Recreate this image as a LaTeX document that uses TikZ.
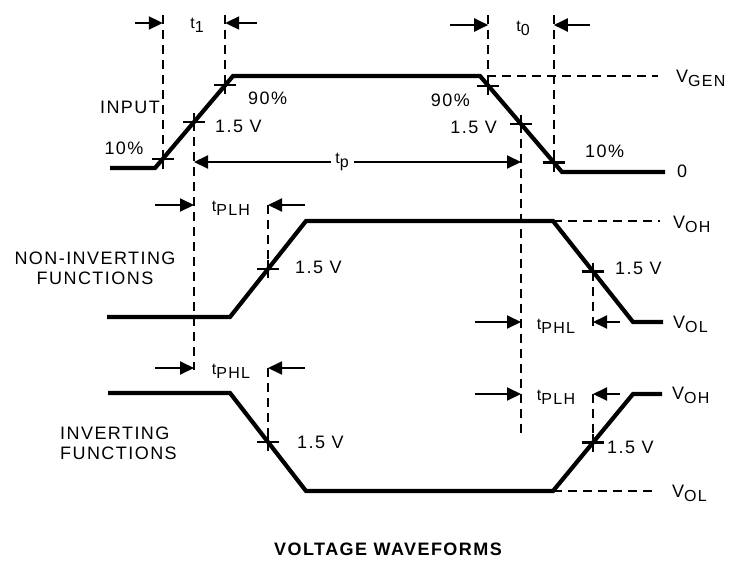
\documentclass[tikz,border=0pt]{standalone}
\usepackage{fontspec}
\setmainfont{Liberation Sans}[LetterSpace=8]
\usetikzlibrary{arrows.meta,calc}
\newcommand{\lowsub}[1]{\raisebox{-4pt}{\fontsize{16}{16}\selectfont #1}}
\newcommand{\smallt}{{\fontsize{16}{16}\selectfont t}}
\begin{document}
\begin{tikzpicture}[x=1pt,y=-1pt,
  every node/.style={inner sep=0pt,font=\fontsize{18}{20}\selectfont},
  wave/.style={line width=4.2pt,line join=miter},
  dline/.style={line width=2pt,dash pattern=on 9pt off 6pt},
  dimarrow/.style={line width=2pt,-{Triangle[length=14pt,width=13pt]}},
  tickmark/.style={line width=2.2pt}]
\useasboundingbox (0,0) rectangle (741,565);
% ---------- key points ----------
\coordinate (i0) at (110,168); \coordinate (i1) at (155,168);
\coordinate (i2) at (233,76);  \coordinate (i3) at (480,76);
\coordinate (i4) at (562,172); \coordinate (i5) at (665,172);
\coordinate (n0) at (107,317); \coordinate (n1) at (230,317);
\coordinate (n2) at (306,221); \coordinate (n3) at (553,221);
\coordinate (n4) at (633,322); \coordinate (n5) at (663,322);
\coordinate (v0) at (108,393); \coordinate (v1) at (230,393);
\coordinate (v2) at (306,491); \coordinate (v3) at (553,491);
\coordinate (v4) at (633,394); \coordinate (v5) at (662,394);
\coordinate (A10) at ($(i1)!0.1!(i2)$);
\coordinate (A50) at ($(i1)!0.5!(i2)$);
\coordinate (A90) at ($(i1)!0.9!(i2)$);
\coordinate (B90) at ($(i3)!0.1!(i4)$);
\coordinate (B50) at ($(i3)!0.5!(i4)$);
\coordinate (B10) at ($(i3)!0.9!(i4)$);
\coordinate (N50) at ($(n1)!0.5!(n2)$);
\coordinate (M50) at ($(n3)!0.5!(n4)$);
\coordinate (I50) at ($(v1)!0.5!(v2)$);
\coordinate (J50) at ($(v3)!0.5!(v4)$);
% ---------- waveforms ----------
\draw[wave] (i0) -- (i1) -- (i2) -- (i3) -- (i4) -- (i5);
\draw[wave] (n0) -- (n1) -- (n2) -- (n3) -- (n4) -- (n5);
\draw[wave] (v0) -- (v1) -- (v2) -- (v3) -- (v4) -- (v5);
% ---------- cross marks ----------
\foreach \p in {A10,A50,A90,B90,B50,B10,N50,M50,I50,J50}{
  \draw[tickmark] ($(\p)+(-11,0)$) -- ($(\p)+(11,0)$);
  \draw[tickmark] ($(\p)+(0,-9)$) -- ($(\p)+(0,9)$);
}
% ---------- dashed reference lines ----------
\coordinate (ytop) at (0,15);
\draw[dline] (A10 |- ytop) -- ($(A10)+(0,10)$);
\draw[dline] (A90 |- ytop) -- ($(A90)+(0,8)$);
\draw[dline] (B90 |- ytop) -- (B90 |- i3) -- (658,76);
\draw[dline] (B10 |- ytop) -- ($(B10)+(0,10)$);
\coordinate (tpLb) at (A50 |- 0,370);
\coordinate (tpRb) at (B50 |- 0,433);
\draw[dline] (A50) -- (tpLb);
\draw[dline] (B50) -- (tpRb);
\draw[dline] (N50 |- 0,205) -- (N50);
\draw[dline] (I50 |- 0,368) -- (I50);
\draw[dline] (M50) -- (M50 |- 0,329);
\draw[dline] (J50 |- 0,394) -- (J50);
\draw[dline] (n3) -- (660,221);
\draw[dline] (v3) -- (655,491);
% ---------- timing arrows ----------
\draw[dimarrow] (135,23) -- (A10 |- 0,23);
\draw[dimarrow] (257,23) -- (A90 |- 0,23);
\node (lt1) at (197,25) {\smallt\lowsub{1}};
\draw[dimarrow] (450,25) -- (B90 |- 0,25);
\draw[dimarrow] (590,25) -- (B10 |- 0,25);
\node (lt0) at (523,28) {\smallt\lowsub{0}};
\node (ltp) at (342,162) {\smallt\lowsub{p}};
\draw[dimarrow] (ltp.west) ++(-4,0) -- (A50 |- 0,162);
\draw[dimarrow] (ltp.east) ++(5,0) -- (B50 |- 0,162);
\draw[dimarrow] (155,205) -- (A50 |- 0,205);
\draw[dimarrow] (305,205) -- (N50 |- 0,205);
\node (ltplh) at (231,208) {\smallt\lowsub{PLH}};
\draw[dimarrow] (155,368) -- (A50 |- 0,368);
\draw[dimarrow] (305,368) -- (I50 |- 0,368);
\node (ltphl) at (231,371) {\smallt\lowsub{PHL}};
\draw[dimarrow] (475,322) -- (B50 |- 0,322);
\draw[dimarrow] (620,322) -- (M50 |- 0,322);
\node (ltphlr) at (556,326) {\smallt\lowsub{PHL}};
\draw[dimarrow] (475,394) -- (B50 |- 0,394);
\draw[dimarrow] (620,394) -- (J50 |- 0,394);
\node (ltplhr) at (556,397) {\smallt\lowsub{PLH}};
% ---------- labels ----------
\node (linput) at (130,107) {INPUT};
\node (l10a) at (124,148) {10\%};
\node[anchor=west] (l15a) at (215,126) {1.5 V};
\node[anchor=west] (l90a) at (248,98) {90\%};
\node[anchor=east] (l90b) at (470,100) {90\%};
\node[anchor=east] (l15b) at (497,127) {1.5 V};
\node[anchor=west] (l10b) at (585,151) {10\%};
\node[anchor=west] (lzero) at (677,171) {0};
\node[anchor=west] (lvgen) at (676,78) {V\lowsub{GEN}};
\node[align=center] (lnoninv) at (95,268) {NON-INVERTING\\FUNCTIONS};
\node[anchor=west] (l15c) at (295,267) {1.5 V};
\node[anchor=west] (lvoh1) at (673,224) {V\lowsub{OH}};
\node[anchor=west] (l15d) at (615,268) {1.5 V};
\node[anchor=west] (lvol1) at (673,324) {V\lowsub{OL}};
\node[align=left,anchor=west] (linv) at (60,443) {INVERTING\\FUNCTIONS};
\node[anchor=west] (l15e) at (297,442) {1.5 V};
\node[anchor=west] (l15f) at (607,447) {1.5 V};
\node[anchor=west] (lvoh2) at (672,395) {V\lowsub{OH}};
\node[anchor=west] (lvol2) at (672,493) {V\lowsub{OL}};
\node[font=\fontsize{18}{20}\selectfont\bfseries] (ltitle) at (388,549) {VOLTAGE WAVEFORMS};
\end{tikzpicture}
\end{document}
